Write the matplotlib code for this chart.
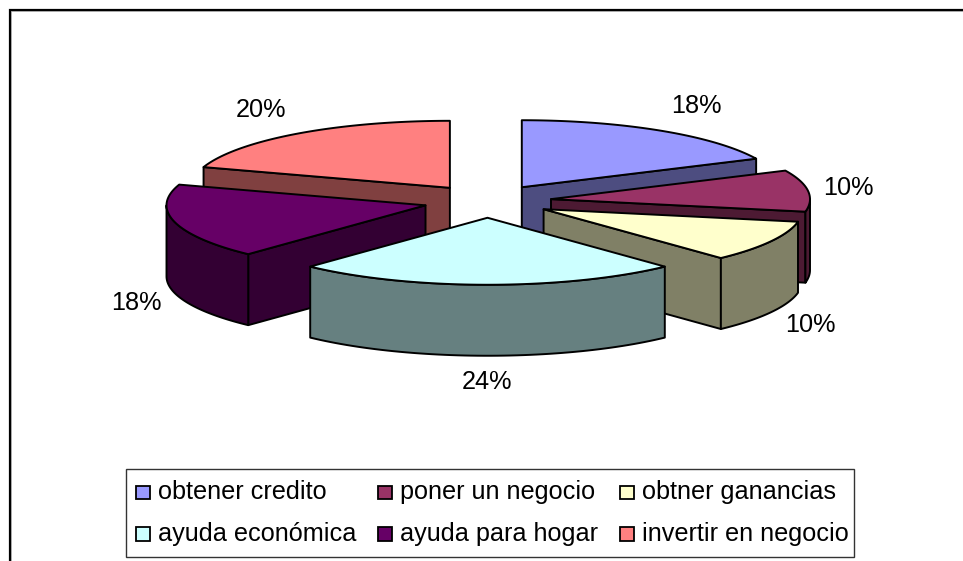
import numpy as np
import matplotlib
matplotlib.use("Agg")
import matplotlib.pyplot as plt
from matplotlib.patches import Rectangle, Polygon

categories = ["obtener credito", "poner un negocio", "obtner ganancias",
              "ayuda económica", "ayuda para hogar", "invertir en negocio"]
values = [18, 10, 10, 24, 18, 20]
top_colors = ["#9999FF", "#993366", "#FFFFCC", "#CCFFFF", "#660066", "#FF8080"]
side_colors = ["#4D4D80", "#4D1A33", "#808066", "#668080", "#330033", "#804040"]
label_positions = [(696, 106), (848, 188), (810, 325), (487, 382), (136, 303), (261, 110)]

W, H = 963, 561
CX, CY = 487.5, 201.2
RX, RY = 259.0, 67.0
DEPTH = 71.0
EXPLODE = 64.0
FONT = ["Liberation Sans", "DejaVu Sans"]
FS = 18.2

fig = plt.figure(figsize=(W / 100, H / 100), dpi=100)
ax = fig.add_axes([0, 0, 1, 1])
ax.set_xlim(0, W)
ax.set_ylim(H, 0)
ax.axis("off")

# outer frame (open on the right and bottom, as in the reference)
ax.plot([9.5, 9.5, W], [H, 9.5, 9.5], color="black", lw=1.6, solid_joinstyle="miter", zorder=1)
ax.plot([12, W], [11, 11], color="#BBBBBB", lw=0.7, zorder=0.9)
ax.plot([11.2, 11.2], [11, H], color="#BBBBBB", lw=0.7, zorder=0.9)

total = sum(values)
fracs = np.cumsum([0] + values) / total * 2 * np.pi


def pt(ax0, ay0, a, dz=0.0):
    return ax0 + RX * np.sin(a), ay0 - RY * np.cos(a) + dz


def poly(xy, fc, z):
    ax.add_patch(Polygon(xy, closed=True, facecolor=fc, edgecolor="black", lw=1.4,
                         joinstyle="round", zorder=z))


def draw_slice(i, z):
    a0, a1 = fracs[i], fracs[i + 1]
    mid = (a0 + a1) / 2
    x0 = CX + EXPLODE * np.sin(mid)
    y0 = CY - EXPLODE * RY / RX * np.cos(mid)
    ang = np.linspace(a0, a1, 60)
    rim = [pt(x0, y0, a) for a in ang]
    # radial walls that face the viewer
    if np.sin(a1) > 1e-6:
        p = pt(x0, y0, a1)
        poly([(x0, y0), p, (p[0], p[1] + DEPTH), (x0, y0 + DEPTH)], side_colors[i], z)
    if np.sin(a0) < -1e-6:
        p = pt(x0, y0, a0)
        poly([(x0, y0), p, (p[0], p[1] + DEPTH), (x0, y0 + DEPTH)], side_colors[i], z)
    # outer wall: only the front half of the ellipse
    lo, hi = max(a0, np.pi / 2), min(a1, 3 * np.pi / 2)
    if hi > lo:
        arc = np.linspace(lo, hi, 60)
        up = [pt(x0, y0, a) for a in arc]
        down = [pt(x0, y0, a, DEPTH) for a in arc[::-1]]
        poly(up + down, side_colors[i], z + 0.1)
    poly([(x0, y0)] + rim, top_colors[i], z + 0.2)


for order, i in enumerate([0, 5, 1, 4, 2, 3]):
    draw_slice(i, 2 + order)

for (x, y), v in zip(label_positions, values):
    ax.text(x, y, f"{v}%", ha="center", va="center", fontsize=FS, family=FONT, color="black", zorder=20)

# legend
ax.add_patch(Rectangle((125.5, 468.5), 728, 88.5, facecolor="white", edgecolor="#333333", lw=1.0, zorder=30))
col_x = [136, 378, 620]
row_y = [492, 533.5]
for k, (name, col) in enumerate(zip(categories, top_colors)):
    x = col_x[k % 3]
    y = row_y[k // 3]
    ax.add_patch(Rectangle((x, y - 6.5), 13.5, 13.5, facecolor=col, edgecolor="black", lw=1.3, zorder=31))
    ax.text(x + 22.5, y, name, ha="left", va="center", fontsize=FS, family=FONT, color="black", zorder=31)

fig.savefig("out.png", dpi=100)
